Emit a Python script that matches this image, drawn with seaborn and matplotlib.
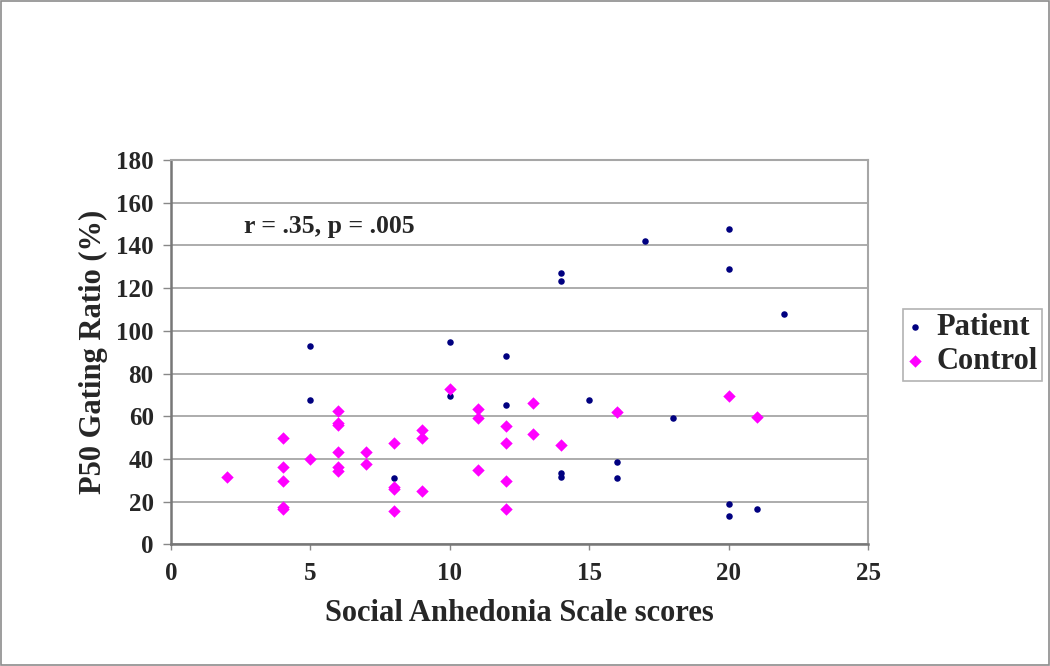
import matplotlib
matplotlib.use("Agg")
import matplotlib.pyplot as plt
import seaborn as sns
import pandas as pd
from matplotlib.patches import Rectangle

# values
patient_x = [5, 5, 8, 10, 10, 12, 12, 14, 14, 14, 14, 15, 16, 16, 16,
             17, 18, 20, 20, 20, 20, 21, 22]
patient_y = [92.8, 67.4, 30.9, 94.8, 69.3, 88.3, 65.4, 127.3, 123.2, 33.4, 31.4,
             67.7, 62.5, 38.5, 31.0, 142.2, 59.3, 147.7, 128.9, 18.7, 13.1, 16.7, 108.0]

control_x = [2, 4, 4, 4, 4, 4, 5, 6, 6, 6, 6, 6, 6, 7, 7, 8, 8, 8, 8,
             9, 9, 9, 10, 11, 11, 11, 12, 12, 12, 12, 13, 13, 14, 16, 20, 21]
control_y = [31.5, 49.9, 36.0, 29.6, 17.3, 16.5, 40.0, 62.6, 57.0, 55.7, 43.1, 36.0,
             34.3, 43.1, 37.6, 47.6, 27.0, 25.8, 15.5, 53.7, 49.9, 24.8, 72.7, 63.4,
             59.3, 34.7, 55.6, 47.4, 29.6, 16.4, 66.2, 51.7, 46.7, 61.8, 69.5, 59.8]

x_ticks = [0, 5, 10, 15, 20, 25]
y_ticks = [0, 20, 40, 60, 80, 100, 120, 140, 160, 180]

df = pd.concat([
    pd.DataFrame({"score": patient_x, "ratio": patient_y, "group": "Patient"}),
    pd.DataFrame({"score": control_x, "ratio": control_y, "group": "Control"}),
], ignore_index=True)

sns.set_style("white")
plt.rcParams["font.family"] = ["Liberation Serif", "DejaVu Serif"]
plt.rcParams["font.weight"] = "bold"

fig = plt.figure(figsize=(10.5, 6.66), dpi=100)
ax = fig.add_axes([0.1629, 0.1827, 0.6638, 0.5771])

sns.scatterplot(data=df[df.group == "Patient"], x="score", y="ratio",
                color="#000080", marker="o", s=22, linewidth=0,
                label="Patient", ax=ax, zorder=3)
sns.scatterplot(data=df[df.group == "Control"], x="score", y="ratio",
                color="#FF00FF", marker="D", s=40, linewidth=0,
                label="Control", ax=ax, zorder=4)

ax.set_xlim(0, 25)
ax.set_ylim(0, 180)
ax.set_xticks(x_ticks)
ax.set_yticks(y_ticks)
ax.yaxis.grid(True, color="#a6a6a6", linewidth=1.3)
ax.set_axisbelow(True)

for side in ["left", "bottom"]:
    ax.spines[side].set_color("#777777")
    ax.spines[side].set_linewidth(1.8)
for side in ["top", "right"]:
    ax.spines[side].set_color("#a6a6a6")
    ax.spines[side].set_linewidth(1.5)

ax.tick_params(axis="y", direction="out", length=5.5, width=1, color="#888888",
               pad=7, labelsize=18, left=True)
ax.tick_params(axis="x", direction="out", length=4, width=1, color="#888888",
               pad=9, labelsize=18, bottom=True)
for lab in ax.get_xticklabels() + ax.get_yticklabels():
    lab.set_fontweight("bold")

ax.set_xlabel("Social Anhedonia Scale scores", fontsize=22, fontweight="bold", labelpad=10)
ax.set_ylabel("P50 Gating Ratio (%)", fontsize=22, fontweight="bold", labelpad=6)

ax.text(2.6, 149, "r = .35, p = .005", fontsize=18.5, fontweight="bold", va="center")

leg = ax.legend(loc="center left", bbox_to_anchor=(0.86, 0.4825),
                bbox_transform=fig.transFigure, frameon=True, fancybox=False,
                prop={"size": 22, "weight": "bold"}, handlelength=0.5,
                handletextpad=0.45, borderpad=0.15, labelspacing=0.15,
                markerscale=1.0, borderaxespad=0)
leg.get_frame().set_edgecolor("#a0a0a0")
leg.get_frame().set_linewidth(1.2)

# thin border round the whole image
fig.patches.append(Rectangle((0.001, 0.001), 0.998, 0.997, transform=fig.transFigure,
                             fill=False, edgecolor="#8c8c8c", linewidth=1.2))

fig.savefig("out.png", dpi=100)
